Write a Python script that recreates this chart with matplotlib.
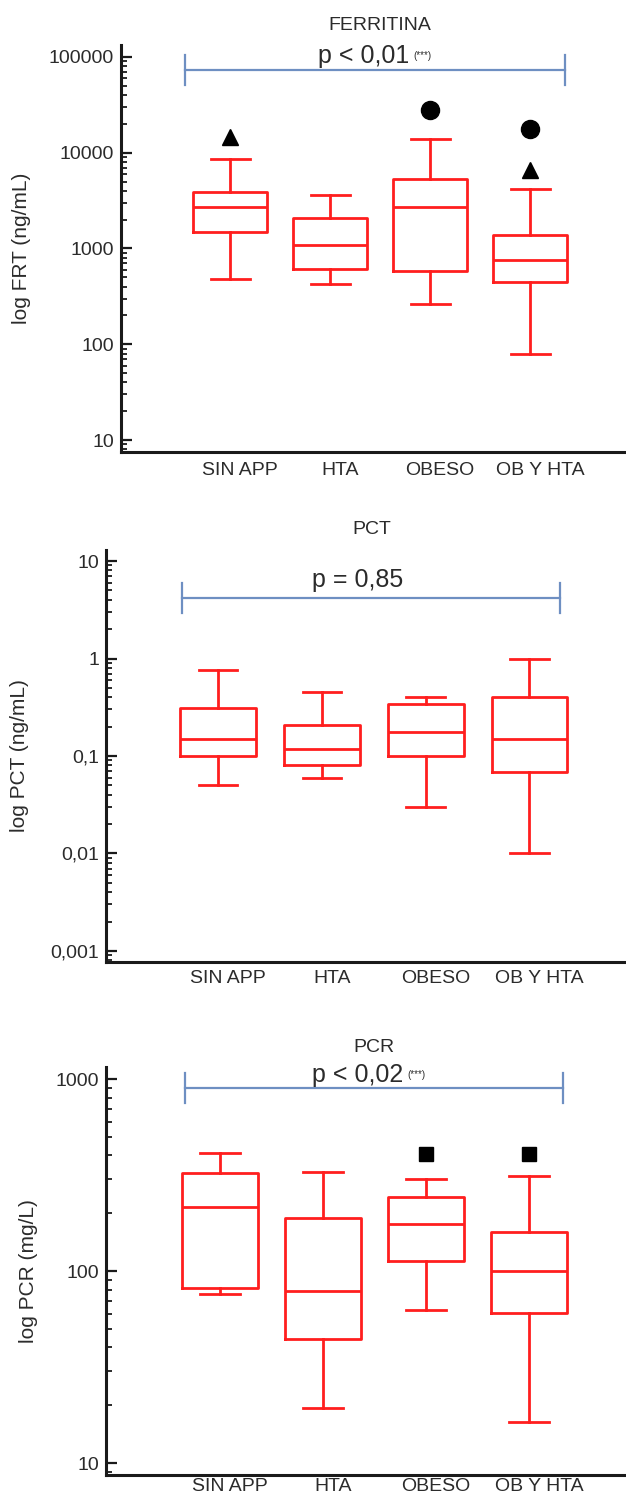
import matplotlib
matplotlib.use("Agg")
import matplotlib.pyplot as plt
import matplotlib.transforms as mtransforms
from matplotlib.ticker import LogLocator, NullFormatter, FixedLocator, FixedFormatter

plt.rcParams['font.family'] = ['Liberation Sans', 'DejaVu Sans']

categories = ["SIN APP", "HTA", "OBESO", "OB Y HTA"]

# FERRITINA (ng/mL)
frt_whislo = [480, 427, 262, 79]
frt_q1 = [1490, 610, 587, 447]
frt_med = [2720, 1090, 2720, 760]
frt_q3 = [3900, 2090, 5340, 1380]
frt_whishi = [8650, 3630, 14000, 4200]
frt_outliers = [(0, 14700, '^'), (2, 27700, 'o'), (3, 17800, 'o'), (3, 6530, '^')]
frt_ticks = [10, 100, 1000, 10000, 100000]
frt_ticklabels = ["10", "100", "1000", "10000", "100000"]

# PCT (ng/mL)
pct_whislo = [0.051, 0.060, 0.030, 0.010]
pct_q1 = [0.100, 0.080, 0.100, 0.069]
pct_med = [0.150, 0.117, 0.178, 0.150]
pct_q3 = [0.310, 0.206, 0.345, 0.400]
pct_whishi = [0.770, 0.450, 0.400, 1.000]
pct_outliers = []
pct_ticks = [0.001, 0.01, 0.1, 1, 10]
pct_ticklabels = ["0,001", "0,01", "0,1", "1", "10"]

# PCR (mg/L)
pcr_whislo = [76, 19.4, 63, 16.3]
pcr_q1 = [82, 44, 113, 60.5]
pcr_med = [215, 79, 176, 100]
pcr_q3 = [324, 189, 243, 160]
pcr_whishi = [412, 328, 301, 312]
pcr_outliers = [(2, 408, 's'), (3, 408, 's')]
pcr_ticks = [10, 100, 1000]
pcr_ticklabels = ["10", "100", "1000"]

W, H = 626, 1499
fig = plt.figure(figsize=(W / 100, H / 100), dpi=100)

RED = '#FF1E1E'
BLUE = '#6E8FC2'
TXT = '#2b2b2b'


def make_panel(px_left, px_top, px_bottom, xlim, ylim, whislo, q1, med, q3, whishi,
               outliers, ticks, ticklabels, ylabel, title, title_xy, ylabel_x,
               bracket, ptext, psup, ptext_xy, boxw, capw, xpad):
    ax = fig.add_axes([px_left / W, 1 - px_bottom / H, (W - px_left) / W,
                       (px_bottom - px_top) / H])
    ax.set_yscale('log')
    stats = []
    for i in range(len(categories)):
        stats.append(dict(med=med[i], q1=q1[i], q3=q3[i], whislo=whislo[i],
                          whishi=whishi[i], fliers=[], label=categories[i]))
    pos = list(range(len(categories)))
    props = dict(color=RED, linewidth=2.0)
    ax.bxp(stats, positions=pos, widths=boxw, capwidths=capw, showfliers=False,
           boxprops=props, whiskerprops=props, capprops=props, medianprops=props,
           manage_ticks=False)
    for (i, v, m) in outliers:
        ms = {'^': 11, 'o': 13, 's': 10.5}[m]
        ax.plot([i], [v], marker=m, color='black', markersize=ms, linestyle='none')
    ax.set_xlim(*xlim)
    ax.set_ylim(*ylim)
    for s in ['top', 'right']:
        ax.spines[s].set_visible(False)
    for s in ['left', 'bottom']:
        ax.spines[s].set_linewidth(2.2)
        ax.spines[s].set_color('#1a1a1a')
    ax.yaxis.set_major_locator(FixedLocator(ticks))
    ax.yaxis.set_major_formatter(FixedFormatter(ticklabels))
    ax.yaxis.set_minor_locator(LogLocator(base=10, subs=range(2, 10), numticks=20))
    ax.yaxis.set_minor_formatter(NullFormatter())
    ax.tick_params(axis='y', which='major', direction='in', length=8, width=1.6,
                   labelsize=14, pad=5, colors='#1a1a1a', labelcolor=TXT)
    ax.tick_params(axis='y', which='minor', direction='in', length=4, width=1.3,
                   colors='#1a1a1a')
    ax.set_xticks(pos)
    ax.set_xticklabels(categories)
    ax.tick_params(axis='x', length=0, labelsize=14, pad=xpad, labelcolor=TXT)
    off = mtransforms.ScaledTranslation(10 / 100, 0, fig.dpi_scale_trans)
    for lab in ax.get_xticklabels():
        lab.set_transform(lab.get_transform() + off)
    # bracket
    tr = mtransforms.blended_transform_factory(ax.transData, ax.transAxes)
    x0, x1, yb, yt0, yt1 = bracket
    ax.plot([x0, x1], [yb, yb], color=BLUE, lw=1.6, transform=tr, clip_on=False)
    ax.plot([x0, x0], [yt0, yt1], color=BLUE, lw=1.6, transform=tr, clip_on=False)
    ax.plot([x1, x1], [yt0, yt1], color=BLUE, lw=1.6, transform=tr, clip_on=False)
    t = ax.text(ptext_xy[0], ptext_xy[1], ptext, transform=tr, ha='left',
                va='baseline', fontsize=18, color=TXT)
    if psup:
        ax.annotate(psup, xy=(1, 1), xycoords=t, xytext=(3, -5),
                    textcoords='offset points', ha='left', va='top',
                    fontsize=7, color=TXT)
    fig.text(title_xy[0] / W, 1 - title_xy[1] / H, title, ha='center', va='center',
             fontsize=14, color=TXT)
    fig.text(ylabel_x / W, 1 - (px_top + px_bottom) / 2 / H, ylabel, rotation=90,
             ha='center', va='center', fontsize=15, color=TXT)
    return ax


make_panel(121, 45, 452, (-1.09, 3.96), (10 ** 0.875, 10 ** 5.125),
           frt_whislo, frt_q1, frt_med, frt_q3, frt_whishi, frt_outliers,
           frt_ticks, frt_ticklabels, "log FRT (ng/mL)", "FERRITINA", (380, 25), 22,
           (-0.45, 3.35, 0.9386, 0.902, 0.975),
           "p < 0,01", "(***)", (0.88, 0.956), 0.74, 0.39, 7)

make_panel(106, 550, 962, (-1.079, 3.93), (10 ** -3.113, 10 ** 1.113),
           pct_whislo, pct_q1, pct_med, pct_q3, pct_whishi, pct_outliers,
           pct_ticks, pct_ticklabels, "log PCT (ng/mL)", "PCT", (372, 530), 20,
           (-0.35, 3.29, 0.8835, 0.847, 0.92),
           "p = 0,85", None, (0.906, 0.910), 0.73, 0.37, 6)

make_panel(106, 1067, 1475, (-1.107, 3.94), (10 ** 0.9375, 10 ** 3.0625),
           pcr_whislo, pcr_q1, pcr_med, pcr_q3, pcr_whishi, pcr_outliers,
           pcr_ticks, pcr_ticklabels, "log PCR (mg/L)", "PCR", (374, 1048), 28,
           (-0.34, 3.33, 0.9485, 0.912, 0.985),
           "p < 0,02", "(***)", (0.893, 0.963), 0.74, 0.39, 2.5)

fig.savefig("out.png", dpi=100)
